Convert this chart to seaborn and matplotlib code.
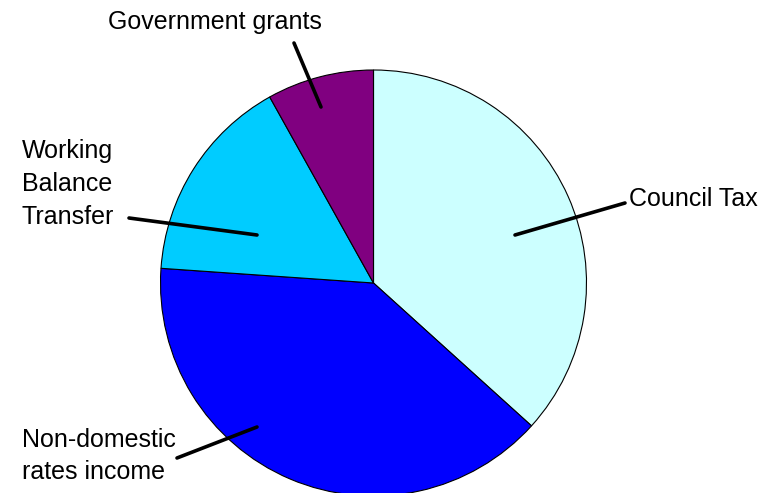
import matplotlib
matplotlib.use("Agg")
import matplotlib.pyplot as plt
import seaborn as sns

# data (shares in percent)
categories = ["Council Tax", "Non-domestic\nrates income", "Working\nBalance\nTransfer", "Government grants"]
shares = [36.7, 39.4, 15.8, 8.1]
colors = ["#CCFFFF", "#0000FF", "#00CCFF", "#800080"]

sns.set_theme(style="white")
plt.rcParams["font.family"] = ["Liberation Sans", "DejaVu Sans"]

W, H = 778, 493
CX, CY, R = 373.5, 283.0, 213.0


def px(x, y):
    """pixel position in the figure -> data coords of the pie axes"""
    return ((x - CX) / R, (CY - y) / R)


fig = plt.figure(figsize=(W / 100, H / 100), dpi=100)
ax = fig.add_axes([(CX - R) / W, (H - CY - R) / H, 2 * R / W, 2 * R / H])

ax.pie(shares, colors=colors, startangle=90, counterclock=False, radius=1,
       wedgeprops=dict(edgecolor="black", linewidth=0.8), frame=False)
ax.set_xlim(-1, 1)
ax.set_ylim(-1, 1)
ax.set_aspect("equal")
ax.axis("off")

# label layout: (line inner end, line outer end, text anchor, ha, va)
layout = [
    ((515, 235), (625, 203), (629, 199), "left", "center"),
    ((257, 427), (177, 458), (22, 456), "left", "center"),
    ((257, 235), (129, 218), (22, 184), "left", "center"),
    ((321, 107), (294, 43), (215, 22), "center", "center"),
]

for label, (inner, outer, txt, ha, va) in zip(categories, layout):
    ax.annotate("", xy=px(*inner), xytext=px(*outer),
                arrowprops=dict(arrowstyle="-", lw=2.6, color="black",
                                shrinkA=0, shrinkB=0),
                annotation_clip=False)
    ax.text(*px(*txt), label, ha=ha, va=va, fontsize=18, linespacing=1.45,
            color="black", clip_on=False)

fig.savefig("out.png", dpi=100)
